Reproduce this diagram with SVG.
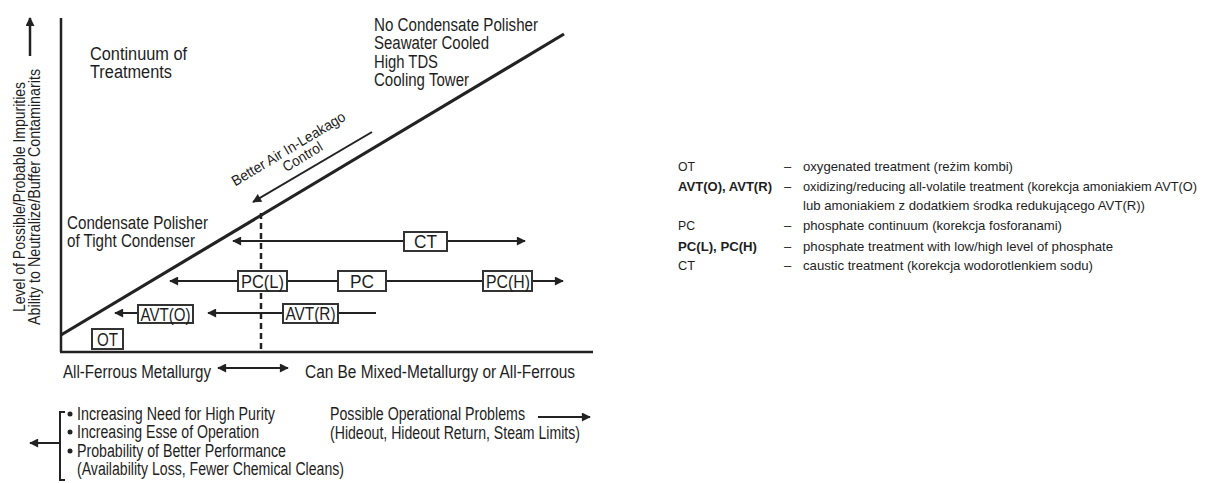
<svg xmlns="http://www.w3.org/2000/svg" width="1209" height="483" viewBox="0 0 1209 483">
<defs>
<style>
text{font-family:"Liberation Sans Narrow","Liberation Sans",Arial,sans-serif;fill:#1e1e1e;}
.t16{font-size:18px;}
.t14{font-size:16px;}
.t13{font-size:14.5px;}
.lg{font-size:13px;}
.b{font-weight:bold;}
.ln{stroke:#222;fill:none;}
.box{fill:#fff;stroke:#333;stroke-width:2;}
.bt{font-size:18px;}
</style>
<marker id="ah" viewBox="0 0 10 10" refX="9" refY="5" markerWidth="11" markerHeight="9" orient="auto-start-reverse" markerUnits="userSpaceOnUse"><path d="M0,0 L10,5 L0,10 z" fill="#222"/></marker>
</defs>
<rect width="1209" height="483" fill="#fff"/>

<g id="axes">
<line class="ln" x1="61" y1="18" x2="61" y2="352" stroke-width="2.5"/>
<line class="ln" x1="60" y1="352" x2="593" y2="352" stroke-width="2.5"/>
<line class="ln" x1="61" y1="335" x2="564" y2="34" stroke-width="3.2"/>
<line class="ln" x1="30" y1="56" x2="30" y2="18" stroke-width="2.5" marker-end="url(#ah)"/>
<text class="t14" transform="translate(0,197) rotate(-90)" text-anchor="middle"><tspan x="0" y="25" textLength="230" lengthAdjust="spacingAndGlyphs">Level of Possible/Probable Impurities</tspan><tspan x="0" y="40" textLength="256" lengthAdjust="spacingAndGlyphs">Ability to Neutralize/Buffer Contaminarits</tspan></text>
</g>

<g id="labels">
<text class="t16"><tspan x="90" y="60" textLength="97" lengthAdjust="spacingAndGlyphs">Continuum of</tspan><tspan x="90" y="78" textLength="82" lengthAdjust="spacingAndGlyphs">Treatments</tspan></text>
<text class="t16"><tspan x="374" y="31" textLength="164" lengthAdjust="spacingAndGlyphs">No Condensate Polisher</tspan><tspan x="374" y="49" textLength="115" lengthAdjust="spacingAndGlyphs">Seawater Cooled</tspan><tspan x="374" y="68" textLength="64" lengthAdjust="spacingAndGlyphs">High TDS</tspan><tspan x="374" y="86" textLength="95" lengthAdjust="spacingAndGlyphs">Cooling Tower</tspan></text>
<text class="t16"><tspan x="67" y="229" textLength="141" lengthAdjust="spacingAndGlyphs">Condensate Polisher</tspan><tspan x="67" y="247" textLength="128" lengthAdjust="spacingAndGlyphs">of Tight Condenser</tspan></text>
<text class="t13" transform="translate(291,153) rotate(-31)" text-anchor="middle"><tspan x="0" y="0" textLength="130" lengthAdjust="spacingAndGlyphs">Better Air In-Leakago</tspan><tspan x="8" y="14" textLength="44" lengthAdjust="spacingAndGlyphs">Control</tspan></text>
<text class="t16" x="63" y="378" textLength="148" lengthAdjust="spacingAndGlyphs">All-Ferrous Metallurgy</text>
<text class="t16" x="305" y="378" textLength="270" lengthAdjust="spacingAndGlyphs">Can Be Mixed-Metallurgy or All-Ferrous</text>
</g>

<g id="connectors">
<line class="ln" x1="372" y1="132" x2="253" y2="202" stroke-width="2" marker-end="url(#ah)"/>
<line class="ln" x1="261" y1="213" x2="261" y2="352" stroke-width="2.5" stroke-dasharray="6,4"/>
<line class="ln" x1="233" y1="241" x2="525" y2="241" stroke-width="2" marker-start="url(#ah)" marker-end="url(#ah)"/>
<line class="ln" x1="170" y1="281" x2="563" y2="281" stroke-width="2" marker-start="url(#ah)" marker-end="url(#ah)"/>
<line class="ln" x1="376" y1="313" x2="208" y2="313" stroke-width="2" marker-end="url(#ah)"/>
<line class="ln" x1="140" y1="313" x2="115" y2="313" stroke-width="2" marker-end="url(#ah)"/>
<line class="ln" x1="218" y1="368" x2="288" y2="368" stroke-width="2" marker-start="url(#ah)" marker-end="url(#ah)"/>
<path class="ln" d="M65,412 H60 V480 H65" stroke-width="2"/>
<line class="ln" x1="60" y1="443" x2="30" y2="443" stroke-width="2" marker-end="url(#ah)"/>
<line class="ln" x1="538" y1="417" x2="590" y2="417" stroke-width="2" marker-end="url(#ah)"/>
</g>

<g id="node-CT"><rect class="box" x="404" y="232" width="43" height="19"/><text class="bt" x="414" y="248" textLength="23" lengthAdjust="spacingAndGlyphs">CT</text></g>
<g id="node-PCL"><rect class="box" x="238" y="271" width="49" height="20"/><text class="bt" x="241" y="288" textLength="43" lengthAdjust="spacingAndGlyphs">PC(L)</text></g>
<g id="node-PC"><rect class="box" x="338" y="271" width="48" height="20"/><text class="bt" x="350" y="288" textLength="24" lengthAdjust="spacingAndGlyphs">PC</text></g>
<g id="node-PCH"><rect class="box" x="483" y="271" width="49" height="20"/><text class="bt" x="486" y="288" textLength="44" lengthAdjust="spacingAndGlyphs">PC(H)</text></g>
<g id="node-AVTR"><rect class="box" x="283" y="304" width="55" height="19"/><text class="bt" x="285.5" y="320" textLength="50" lengthAdjust="spacingAndGlyphs">AVT(R)</text></g>
<g id="node-AVTO"><rect class="box" x="138" y="305" width="55" height="18"/><text class="bt" x="140.5" y="320.5" textLength="50" lengthAdjust="spacingAndGlyphs">AVT(O)</text></g>
<g id="node-OT"><rect class="box" x="92" y="329" width="31" height="20"/><text class="bt" x="97" y="346" textLength="21" lengthAdjust="spacingAndGlyphs">OT</text></g>

<g id="notes">
<circle cx="70" cy="414" r="2.5" fill="#222"/>
<circle cx="70" cy="432" r="2.5" fill="#222"/>
<circle cx="70" cy="451" r="2.5" fill="#222"/>
<text class="t16"><tspan x="77" y="420" textLength="198" lengthAdjust="spacingAndGlyphs">Increasing Need for High Purity</tspan><tspan x="77" y="438" textLength="182" lengthAdjust="spacingAndGlyphs">Increasing Esse of Operation</tspan><tspan x="77" y="457" textLength="209" lengthAdjust="spacingAndGlyphs">Probability of Better Performance</tspan><tspan x="77" y="475" textLength="267" lengthAdjust="spacingAndGlyphs">(Availability Loss, Fewer Chemical Cleans)</tspan></text>
<text class="t16"><tspan x="330" y="420" textLength="195" lengthAdjust="spacingAndGlyphs">Possible Operational Problems</tspan><tspan x="330" y="439" textLength="250" lengthAdjust="spacingAndGlyphs">(Hideout, Hideout Return, Steam Limits)</tspan></text>
</g>

<g id="legend">
<text class="lg" x="678" y="171" textLength="17" lengthAdjust="spacingAndGlyphs">OT</text>
<text class="lg b" x="678" y="191" textLength="94" lengthAdjust="spacingAndGlyphs">AVT(O), AVT(R)</text>
<text class="lg" x="678" y="230" textLength="17" lengthAdjust="spacingAndGlyphs">PC</text>
<text class="lg b" x="678" y="251" textLength="79" lengthAdjust="spacingAndGlyphs">PC(L), PC(H)</text>
<text class="lg" x="678" y="270" textLength="17" lengthAdjust="spacingAndGlyphs">CT</text>
<text class="lg" x="784" y="171">–</text>
<text class="lg" x="784" y="191">–</text>
<text class="lg" x="784" y="230">–</text>
<text class="lg" x="784" y="251">–</text>
<text class="lg" x="784" y="270">–</text>
<text class="lg" x="803" y="171" textLength="210" lengthAdjust="spacingAndGlyphs">oxygenated treatment (reżim kombi)</text>
<text class="lg"><tspan x="803" y="191" textLength="394" lengthAdjust="spacingAndGlyphs">oxidizing/reducing all-volatile treatment (korekcja amoniakiem AVT(O)</tspan><tspan x="803" y="210" textLength="342" lengthAdjust="spacingAndGlyphs">lub amoniakiem z dodatkiem środka redukującego AVT(R))</tspan></text>
<text class="lg" x="803" y="230" textLength="259" lengthAdjust="spacingAndGlyphs">phosphate continuum (korekcja fosforanami)</text>
<text class="lg" x="803" y="251" textLength="310" lengthAdjust="spacingAndGlyphs">phosphate treatment with low/high level of phosphate</text>
<text class="lg" x="803" y="270" textLength="290" lengthAdjust="spacingAndGlyphs">caustic treatment (korekcja wodorotlenkiem sodu)</text>
</g>
</svg>
